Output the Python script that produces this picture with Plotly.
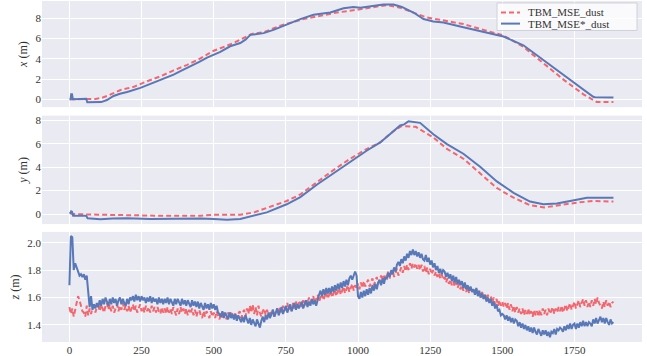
import plotly.graph_objects as go

# ---------------- data (sample index -> metres) ----------------
series_names = ["TBM_MSE_dust", "TBM_MSE*_dust"]

# x position
x_idx_mse = [3, 90, 110, 130, 177, 223, 269, 315, 361, 408, 454, 500, 523, 569, 632, 673, 731,
             811, 869, 927, 984, 1042, 1100, 1146, 1192, 1238, 1285, 1365, 1435, 1504, 1573,
             1642, 1712, 1781, 1827, 1885]
x_mse = [0.0, 0.03, 0.12, 0.32, 0.91, 1.23, 1.78, 2.27, 2.85, 3.4, 4.05, 4.8, 5.05, 5.56, 6.47,
         6.63, 7.28, 7.93, 8.25, 8.58, 8.8, 9.06, 9.32, 9.06, 8.58, 8.09, 7.86, 7.44, 6.86,
         6.31, 5.18, 3.56, 1.94, 0.49, -0.26, -0.26]

x_idx_star = [0, 4, 6, 9, 12, 58, 62, 95, 110, 130, 153, 175, 200, 246, 275, 304, 330, 361, 390,
              419, 450, 477, 500, 523, 557, 592, 610, 627, 650, 673, 707, 754, 800, 846, 904,
              950, 984, 1008, 1054, 1088, 1123, 1152, 1192, 1227, 1261, 1296, 1365, 1435, 1504,
              1573, 1642, 1712, 1781, 1815, 1821, 1885]
x_star = [0.0, 0.0, 0.5, 0.5, 0.0, 0.05, -0.3, -0.32, -0.28, -0.08, 0.32, 0.55, 0.72, 1.13, 1.45,
          1.78, 2.1, 2.43, 2.85, 3.24, 3.7, 4.11, 4.42, 4.69, 5.24, 5.56, 5.9, 6.37, 6.45, 6.54,
          6.86, 7.44, 7.93, 8.35, 8.58, 9.0, 9.13, 9.06, 9.22, 9.38, 9.38, 9.13, 8.58, 7.93, 7.7,
          7.6, 7.12, 6.7, 6.21, 5.34, 3.88, 2.43, 0.97, 0.25, 0.2, 0.18]

# y position
y_idx_mse = [3, 10, 100, 200, 300, 400, 454, 500, 592, 640, 684, 753, 800, 857, 915, 973, 1031,
             1077, 1123, 1150, 1200, 1261, 1308, 1365, 1423, 1481, 1539, 1596, 1645, 1700, 1758,
             1816, 1885]
y_mse = [0.06, 0.0, -0.06, -0.12, -0.14, -0.14, -0.14, -0.06, -0.06, 0.14, 0.5, 1.11, 1.67, 2.72,
         3.75, 4.72, 5.56, 6.11, 7.08, 7.5, 7.44, 6.53, 5.56, 4.72, 3.47, 2.22, 1.39, 0.75, 0.56,
         0.78, 0.97, 1.11, 1.06]

y_idx_star = [0, 4, 6, 9, 13, 58, 63, 107, 150, 200, 280, 384, 454, 500, 546, 592, 627, 684, 753,
              800, 857, 915, 973, 1031, 1077, 1123, 1146, 1160, 1175, 1215, 1261, 1308, 1365,
              1423, 1481, 1539, 1596, 1642, 1689, 1735, 1793, 1885]
y_star = [0.06, 0.1, 0.23, 0.2, -0.14, -0.14, -0.36, -0.45, -0.38, -0.36, -0.42, -0.36, -0.38,
          -0.42, -0.5, -0.42, -0.22, 0.14, 0.83, 1.44, 2.5, 3.47, 4.5, 5.42, 6.11, 7.08, 7.56,
          7.65, 7.92, 7.78, 6.8, 5.97, 5.14, 4.03, 2.78, 1.81, 1.06, 0.83, 0.89, 1.11, 1.39, 1.39]

# z position, one reading every 5 samples
z_idx = list(range(0, 1890, 5))
z_mse = [
    1.53, 1.48, 1.52, 1.46, 1.51, 1.55, 1.61, 1.58, 1.54, 1.50, 1.49, 1.46, 1.54, 1.47, 1.52, 1.48, 1.53, 1.54, 1.49, 1.53,
    1.54, 1.50, 1.55, 1.51, 1.49, 1.54, 1.56, 1.51, 1.55, 1.50, 1.54, 1.49, 1.53, 1.55, 1.50, 1.54, 1.51, 1.56, 1.51, 1.54,
    1.50, 1.54, 1.49, 1.53, 1.55, 1.50, 1.54, 1.49, 1.53, 1.55, 1.50, 1.53, 1.49, 1.54, 1.50, 1.53, 1.49, 1.54, 1.50, 1.53,
    1.49, 1.53, 1.50, 1.48, 1.53, 1.49, 1.52, 1.48, 1.53, 1.49, 1.52, 1.48, 1.53, 1.49, 1.47, 1.52, 1.48, 1.53, 1.49, 1.52,
    1.48, 1.52, 1.47, 1.51, 1.48, 1.52, 1.47, 1.51, 1.46, 1.50, 1.51, 1.47, 1.45, 1.50, 1.46, 1.50, 1.47, 1.45, 1.50, 1.46,
    1.49, 1.45, 1.50, 1.46, 1.44, 1.49, 1.45, 1.49, 1.46, 1.44, 1.49, 1.45, 1.50, 1.46, 1.44, 1.49, 1.45, 1.48, 1.50, 1.45,
    1.49, 1.51, 1.46, 1.52, 1.48, 1.54, 1.49, 1.55, 1.48, 1.53, 1.47, 1.54, 1.49, 1.46, 1.50, 1.52, 1.47, 1.51, 1.46, 1.50,
    1.47, 1.51, 1.46, 1.50, 1.52, 1.48, 1.53, 1.49, 1.54, 1.50, 1.54, 1.56, 1.51, 1.55, 1.50, 1.56, 1.52, 1.57, 1.53, 1.56,
    1.57, 1.53, 1.58, 1.54, 1.59, 1.55, 1.60, 1.56, 1.59, 1.61, 1.56, 1.60, 1.62, 1.57, 1.61, 1.63, 1.58, 1.62, 1.64, 1.59,
    1.63, 1.65, 1.60, 1.64, 1.66, 1.61, 1.65, 1.67, 1.62, 1.66, 1.68, 1.63, 1.67, 1.69, 1.64, 1.68, 1.70, 1.65, 1.69, 1.66,
    1.70, 1.66, 1.71, 1.67, 1.72, 1.68, 1.71, 1.73, 1.68, 1.72, 1.74, 1.69, 1.73, 1.75, 1.70, 1.74, 1.76, 1.72, 1.77, 1.73,
    1.77, 1.79, 1.74, 1.78, 1.80, 1.75, 1.79, 1.81, 1.76, 1.80, 1.82, 1.78, 1.83, 1.79, 1.84, 1.80, 1.85, 1.81, 1.85, 1.82,
    1.85, 1.81, 1.84, 1.80, 1.84, 1.79, 1.83, 1.78, 1.82, 1.77, 1.81, 1.77, 1.80, 1.76, 1.79, 1.75, 1.78, 1.74, 1.77, 1.73,
    1.75, 1.71, 1.74, 1.70, 1.73, 1.69, 1.72, 1.68, 1.71, 1.67, 1.70, 1.66, 1.69, 1.65, 1.69, 1.64, 1.68, 1.63, 1.67, 1.64,
    1.66, 1.62, 1.67, 1.61, 1.65, 1.60, 1.64, 1.59, 1.63, 1.58, 1.62, 1.57, 1.61, 1.56, 1.60, 1.55, 1.59, 1.54, 1.58, 1.54,
    1.57, 1.53, 1.56, 1.52, 1.56, 1.51, 1.55, 1.50, 1.54, 1.49, 1.53, 1.49, 1.52, 1.48, 1.52, 1.47, 1.51, 1.48, 1.52, 1.47,
    1.50, 1.46, 1.51, 1.47, 1.50, 1.46, 1.51, 1.47, 1.52, 1.48, 1.51, 1.47, 1.52, 1.48, 1.51, 1.53, 1.48, 1.52, 1.49, 1.53,
    1.50, 1.54, 1.49, 1.53, 1.55, 1.50, 1.54, 1.56, 1.51, 1.55, 1.57, 1.52, 1.56, 1.58, 1.53, 1.57, 1.59, 1.54, 1.58, 1.53,
    1.57, 1.53, 1.58, 1.54, 1.59, 1.55, 1.60, 1.56, 1.54, 1.52, 1.57, 1.53, 1.58, 1.54, 1.57, 1.53, 1.56, 1.57,
]
z_star = [
    1.69, 2.05, 2.04, 1.80, 1.85, 1.82, 1.78, 1.76, 1.77, 1.75, 1.77, 1.73, 1.76, 1.62, 1.53, 1.61, 1.51, 1.55, 1.52, 1.56,
    1.53, 1.58, 1.54, 1.59, 1.55, 1.60, 1.56, 1.54, 1.59, 1.55, 1.60, 1.56, 1.59, 1.54, 1.58, 1.60, 1.55, 1.59, 1.56, 1.54,
    1.59, 1.55, 1.60, 1.58, 1.61, 1.57, 1.62, 1.58, 1.61, 1.57, 1.61, 1.58, 1.60, 1.56, 1.60, 1.57, 1.61, 1.56, 1.60, 1.57,
    1.59, 1.55, 1.60, 1.56, 1.59, 1.55, 1.59, 1.56, 1.60, 1.55, 1.59, 1.56, 1.54, 1.59, 1.55, 1.59, 1.56, 1.54, 1.59, 1.55,
    1.58, 1.54, 1.58, 1.55, 1.53, 1.58, 1.54, 1.57, 1.53, 1.57, 1.52, 1.56, 1.53, 1.51, 1.56, 1.52, 1.55, 1.51, 1.56, 1.52,
    1.55, 1.51, 1.54, 1.49, 1.48, 1.46, 1.50, 1.45, 1.49, 1.46, 1.44, 1.49, 1.45, 1.48, 1.44, 1.48, 1.43, 1.47, 1.44, 1.42,
    1.46, 1.42, 1.47, 1.43, 1.41, 1.45, 1.40, 1.44, 1.41, 1.39, 1.44, 1.40, 1.38, 1.43, 1.46, 1.42, 1.47, 1.44, 1.49, 1.45,
    1.49, 1.51, 1.46, 1.50, 1.52, 1.47, 1.51, 1.53, 1.48, 1.52, 1.54, 1.49, 1.53, 1.55, 1.50, 1.54, 1.56, 1.51, 1.55, 1.52,
    1.55, 1.57, 1.52, 1.56, 1.58, 1.53, 1.57, 1.54, 1.59, 1.55, 1.58, 1.54, 1.59, 1.62, 1.65, 1.61, 1.66, 1.62, 1.67, 1.63,
    1.67, 1.63, 1.68, 1.64, 1.69, 1.65, 1.70, 1.66, 1.71, 1.67, 1.72, 1.68, 1.73, 1.69, 1.74, 1.76, 1.73, 1.77, 1.79, 1.76,
    1.61, 1.59, 1.64, 1.60, 1.65, 1.61, 1.66, 1.62, 1.67, 1.63, 1.69, 1.65, 1.70, 1.66, 1.71, 1.73, 1.69, 1.74, 1.70, 1.75,
    1.74, 1.78, 1.75, 1.80, 1.77, 1.82, 1.79, 1.84, 1.86, 1.83, 1.88, 1.85, 1.90, 1.87, 1.92, 1.89, 1.94, 1.91, 1.95, 1.91,
    1.94, 1.90, 1.93, 1.89, 1.92, 1.88, 1.87, 1.91, 1.86, 1.89, 1.84, 1.87, 1.82, 1.85, 1.80, 1.83, 1.78, 1.81, 1.77, 1.80,
    1.79, 1.75, 1.78, 1.74, 1.77, 1.72, 1.76, 1.71, 1.75, 1.70, 1.73, 1.69, 1.72, 1.67, 1.71, 1.66, 1.69, 1.65, 1.68, 1.64,
    1.66, 1.62, 1.67, 1.61, 1.65, 1.60, 1.63, 1.59, 1.62, 1.57, 1.60, 1.56, 1.59, 1.54, 1.57, 1.52, 1.55, 1.50, 1.51, 1.47,
    1.48, 1.47, 1.44, 1.47, 1.43, 1.46, 1.42, 1.45, 1.41, 1.44, 1.43, 1.39, 1.42, 1.38, 1.41, 1.37, 1.40, 1.36, 1.39, 1.35,
    1.38, 1.34, 1.38, 1.35, 1.33, 1.37, 1.34, 1.32, 1.36, 1.33, 1.36, 1.32, 1.35, 1.31, 1.35, 1.34, 1.37, 1.33, 1.37, 1.36,
    1.38, 1.37, 1.35, 1.39, 1.36, 1.40, 1.37, 1.41, 1.37, 1.40, 1.41, 1.37, 1.41, 1.38, 1.42, 1.39, 1.43, 1.39, 1.42, 1.39,
    1.42, 1.41, 1.39, 1.44, 1.41, 1.45, 1.41, 1.44, 1.46, 1.42, 1.45, 1.41, 1.45, 1.42, 1.40, 1.44, 1.41, 1.42,
]

x_ticks = [0, 250, 500, 750, 1000, 1250, 1500, 1750]
ticks_xy = [0, 2, 4, 6, 8]
ticks_z = [1.4, 1.6, 1.8, 2.0]
ticktext_z = ["1.4", "1.6", "1.8", "2.0"]

# ---------------- styling ----------------
RED = "#F4666D"
BLUE = "#5878B8"
BG = "#EAEAF2"
FONT = "Liberation Serif, Times New Roman, serif"
TXT = "#333333"

fig = go.Figure()

panels = [
    (x_idx_mse, x_mse, x_idx_star, x_star, "x", "y"),
    (y_idx_mse, y_mse, y_idx_star, y_star, "x2", "y2"),
    (z_idx, z_mse, z_idx, z_star, "x3", "y3"),
]
for i_mse, v_mse, i_star, v_star, xa, ya in panels:
    fig.add_trace(go.Scatter(x=i_mse, y=v_mse, mode="lines", name=series_names[0],
                             line=dict(color=RED, width=2, dash="5px,3px"),
                             xaxis=xa, yaxis=ya, showlegend=False))
    fig.add_trace(go.Scatter(x=i_star, y=v_star, mode="lines", name=series_names[1],
                             line=dict(color=BLUE, width=2),
                             xaxis=xa, yaxis=ya, showlegend=False))

H = 347.0  # plot area height in px
def dom(top_px, bot_px):
    return [max(0.0, (H - bot_px) / H), min(1.0, (H - top_px) / H)]

common_x = dict(range=[-95, 1984], tickvals=x_ticks, showgrid=True, gridcolor="white",
                gridwidth=1, zeroline=False, showline=False, ticks="",
                tickfont=dict(family=FONT, size=11, color=TXT))
common_y = dict(showgrid=True, gridcolor="white", gridwidth=1, zeroline=False,
                showline=False, ticks="", tickfont=dict(family=FONT, size=11, color=TXT))

fig.update_layout(
    width=647, height=356,
    margin=dict(l=42, r=5, t=0, b=9),
    paper_bgcolor="white",
    plot_bgcolor=BG,
    font=dict(family=FONT, color=TXT),
    xaxis=dict(common_x, anchor="y", showticklabels=False),
    xaxis2=dict(common_x, anchor="y2", matches="x", showticklabels=False),
    xaxis3=dict(common_x, anchor="y3", matches="x", showticklabels=True),
    yaxis=dict(common_y, domain=dom(0, 108), range=[-0.78, 9.72], tickvals=ticks_xy,
               title=dict(text="<i>x</i> (m)", standoff=5, font=dict(family=FONT, size=12, color=TXT))),
    yaxis2=dict(common_y, domain=dom(116.7, 227), range=[-0.86, 8.39], tickvals=ticks_xy,
                title=dict(text="<i>y</i> (m)", standoff=5, font=dict(family=FONT, size=12, color=TXT))),
    yaxis3=dict(common_y, domain=dom(235, 347), range=[1.275, 2.079], tickvals=ticks_z,
                ticktext=ticktext_z,
                title=dict(text="<i>z</i> (m)", standoff=5, font=dict(family=FONT, size=12, color=TXT))),
)

# ---------------- legend (drawn in the top panel, upper right) ----------------
W = 600.0
def px_x(p):
    return (p - 42) / W
def px_y(p):
    return (H - p) / H

fig.add_shape(type="rect", xref="paper", yref="paper",
              x0=px_x(497), x1=px_x(637), y0=px_y(30), y1=px_y(2),
              fillcolor="rgba(255,255,255,0.75)", line=dict(color="#D0D0D8", width=1))
legend_rows = [(11.7, RED, "5px,3px", series_names[0]), (23.0, BLUE, "solid", series_names[1])]
for ypx, col, dash, label in legend_rows:
    fig.add_shape(type="line", xref="paper", yref="paper",
                  x0=px_x(501), x1=px_x(520), y0=px_y(ypx), y1=px_y(ypx),
                  line=dict(color=col, width=2, dash=dash))
    fig.add_annotation(xref="paper", yref="paper", x=px_x(526), y=px_y(ypx),
                       text=label, showarrow=False, xanchor="left", yanchor="middle",
                       font=dict(family=FONT, size=11, color=TXT))

fig.write_html("out.html")
